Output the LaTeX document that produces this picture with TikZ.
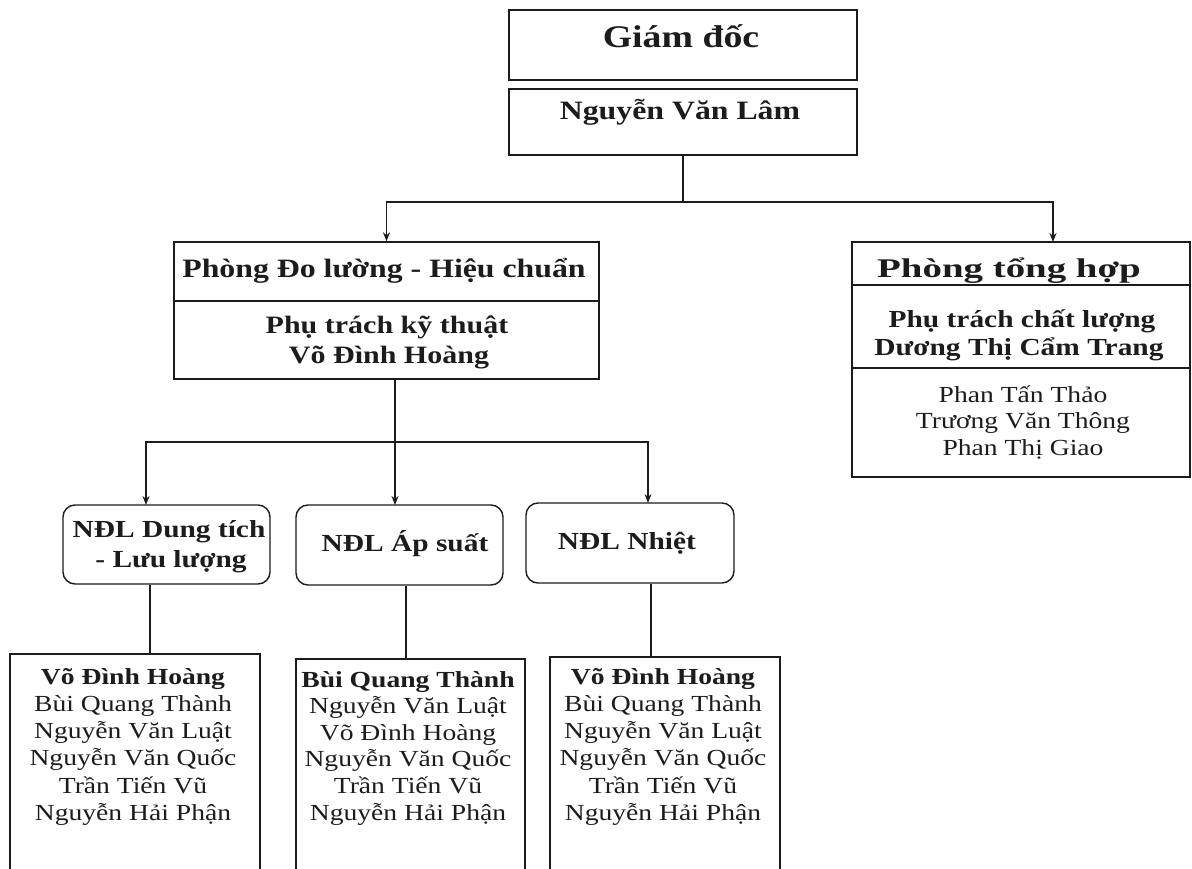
\documentclass[tikz,border=0pt]{standalone}
\usepackage{fontspec}
\usepackage{graphicx}
\setmainfont{Liberation Serif}[FakeStretch=1.2]
\usetikzlibrary{arrows.meta,calc}
\definecolor{ink}{RGB}{28,28,28}
\tikzset{
  box/.style={draw=ink, line width=1.4pt, rectangle, inner sep=0pt},
  rbox/.style={box, rounded corners=12pt},
  conn/.style={draw=ink, line width=1.4pt},
  arr/.style={conn, -{Stealth[length=9pt,width=7pt]}},
  txt/.style={anchor=base, inner sep=0pt, text=ink},
  namef/.style={txt, font=\fontsize{23}{27}\selectfont},
  headf/.style={txt, font=\fontsize{25}{29}\selectfont\bfseries},
}
\begin{document}
\begin{tikzpicture}[x=1pt,y=-1pt]
\useasboundingbox (0,0) rectangle (1192,869);
% top boxes
\node[box, minimum width=348pt, minimum height=70pt] (gd) at (683,45) {};
\node[txt, font=\fontsize{31.5}{34}\selectfont\bfseries] (gdt) at (681,48) {Giám đốc};
\node[box, minimum width=348pt, minimum height=66pt] (nvl) at (683,122) {};
\node[headf, font=\fontsize{26.5}{29}\selectfont\bfseries] (nvlt) at (680,120) {Nguyễn Văn Lâm};
% Phong Do luong
\node[box, minimum width=425pt, minimum height=137pt] (pdl) at (386.5,310.5) {};
\coordinate (dv1) at (0,301);
\draw[conn] (pdl.west |- dv1) -- (pdl.east |- dv1);
\node[txt, font=\fontsize{26.5}{30}\selectfont\bfseries] (pdlh) at (384,278) {Phòng Đo lường - Hiệu chuẩn};
\node[headf] (pdl1) at (387,334) {Phụ trách kỹ thuật};
\node[headf] (pdl2) at (389,363) {Võ Đình Hoàng};
% Phong tong hop
\node[box, minimum width=338pt, minimum height=235pt] (pth) at (1021,359.5) {};
\coordinate (dv2) at (0,285);
\coordinate (dv3) at (0,368);
\draw[conn] (pth.west |- dv2) -- (pth.east |- dv2);
\draw[conn] (pth.west |- dv3) -- (pth.east |- dv3);
\node[txt, font=\fontsize{27}{30}\selectfont\bfseries] (ptht) at (1009,277) {\scalebox{1.2}[1]{Phòng tổng hợp}};
\node[headf, font=\fontsize{24.5}{29}\selectfont\bfseries] (pth1) at (1022,327) {Phụ trách chất lượng};
\node[headf, font=\fontsize{24.5}{29}\selectfont\bfseries] (pth2) at (1019,355) {Dương Thị Cẩm Trang};
\node[namef] (pthn1) at (1023,402) {Phan Tấn Thảo};
\node[namef] (pthn2) at (1023,428) {Trương Văn Thông};
\node[namef] (pthn3) at (1023,455) {Phan Thị Giao};
% top connectors
\coordinate (h1) at (0,202);
\coordinate (pthin) at (1053,242);
\draw[conn] (nvl.south) -- (nvl.south |- h1) coordinate (j1);
\draw[arr] (j1) -| (pdl.north);
\draw[arr] (j1) -| (pthin);
% NDL boxes
\node[rbox, minimum width=207pt, minimum height=79pt] (dt) at (166.5,544.5) {};
\node[headf, font=\fontsize{24.5}{29}\selectfont\bfseries] (dt1) at (169,537) {NĐL Dung tích};
\node[headf, font=\fontsize{24.5}{29}\selectfont\bfseries] (dt2) at (171,567) {- Lưu lượng};
\node[rbox, minimum width=207pt, minimum height=80pt] (as) at (399.5,545) {};
\node[headf, font=\fontsize{24.5}{29}\selectfont\bfseries] (ast) at (405,551) {NĐL Áp suất};
\node[rbox, minimum width=208pt, minimum height=80pt] (nh) at (630,543) {};
\node[headf, font=\fontsize{24.5}{29}\selectfont\bfseries] (nht) at (627,549) {NĐL Nhiệt};
% second connectors
\coordinate (h2) at (0,442);
\coordinate (dtin) at (146,505);
\coordinate (asin) at (395,505);
\coordinate (nhin) at (648,503);
\draw[conn] ($(pdl.south)+(8.5,0)$) coordinate (p2) -- (p2 |- h2) coordinate (j2);
\draw[arr] (j2) -- (asin);
\draw[arr] (j2) -| (dtin);
\draw[arr] (j2) -| (nhin);
% bottom boxes
\node[box, minimum width=250pt, minimum height=221pt] (lb) at (135,764.5) {};
\node[box, minimum width=229pt, minimum height=216pt] (mb) at (410.5,767) {};
\node[box, minimum width=230pt, minimum height=218pt] (rb) at (665,766) {};
\draw[conn] ($(dt.south)+(-16.5,0)$) coordinate (d1) -- (d1 |- lb.north);
\draw[conn] ($(as.south)+(6.5,0)$) coordinate (d2) -- (d2 |- mb.north);
\draw[conn] ($(nh.south)+(21,0)$) coordinate (d3) -- (d3 |- rb.north);
% names
\foreach \t [count=\i] in {{\textbf{Võ Đình Hoàng}}, Bùi Quang Thành, Nguyễn Văn Luật, Nguyễn Văn Quốc, Trần Tiến Vũ, Nguyễn Hải Phận}
  \node[namef] (ln\i) at (133,{684+27.3*(\i-1)}) {\t};
\foreach \t [count=\i] in {{\textbf{Bùi Quang Thành}}, Nguyễn Văn Luật, Võ Đình Hoàng, Nguyễn Văn Quốc, Trần Tiến Vũ, Nguyễn Hải Phận}
  \node[namef] (mn\i) at (408,{687+26.6*(\i-1)}) {\t};
\foreach \t [count=\i] in {{\textbf{Võ Đình Hoàng}}, Bùi Quang Thành, Nguyễn Văn Luật, Nguyễn Văn Quốc, Trần Tiến Vũ, Nguyễn Hải Phận}
  \node[namef] (rn\i) at (663,{684+27.3*(\i-1)}) {\t};
\end{tikzpicture}
\end{document}
